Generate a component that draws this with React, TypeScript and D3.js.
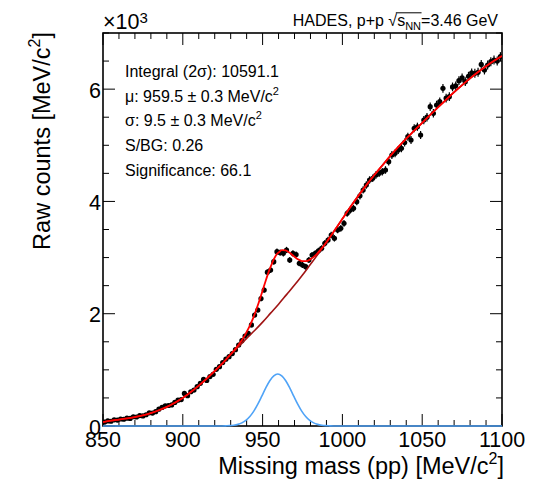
import React, { useEffect, useRef } from "react";
import * as d3 from "d3";

const W = 545;
const H = 487;
const L = 103, R = 502, T = 33, B = 426;

const xDomain = [850, 1100];
const yDomain = [0, 7000];
const xMajorTicks = [850, 900, 950, 1000, 1050, 1100];
const xTickLabels = ["850", "900", "950", "1000", "1050", "1100"];
const yMajorTicks = [0, 2000, 4000, 6000];
const yTickLabels = ["0", "2", "4", "6"];

// bin centres (2 MeV bins)
const binCenters = d3.range(851, 1100, 2);
// raw counts per bin
const counts = [
  70, 90, 85, 110, 105, 125, 120, 140, 135, 165,
  160, 185, 180, 200, 235, 230, 255, 300, 330, 360,
  365, 375, 420, 460, 470, 580, 540, 610, 640, 700,
  760, 830, 810, 880, 920,
  1010, 1056, 1130, 1190, 1234, 1290, 1360, 1443, 1520, 1603,
  1650, 1800, 1977, 2066, 2270, 2422, 2740, 2779, 2927, 3105,
  3087, 3076, 3135, 2957, 3076, 3055, 2898, 2868, 2838, 2957,
  3046, 3076, 3120, 3165, 3254, 3313, 3402, 3343, 3491, 3521,
  3610, 3788, 3847, 3877, 3995, 4100, 4204, 4293, 4382, 4412,
  4471, 4501, 4530, 4560, 4708, 4827, 4857, 4916, 4946, 5050,
  5153, 5094, 5303, 5330, 5183, 5450, 5500, 5688, 5570, 5718,
  5777, 6015, 5840, 5866, 6040, 6060, 6150, 6200, 6133, 6230,
  6290, 6282, 6300, 6440, 6341, 6430, 6489, 6519, 6500, 6578,
];

// background fit curve (dark red)
const bgMass = [
  850, 855, 860, 865, 870, 875, 880, 885, 890, 895,
  900, 905, 910, 915, 920, 925, 930, 935, 940, 945,
  950, 955, 960, 965, 970, 975, 980, 985, 990, 995,
  1000, 1005, 1010, 1015, 1020, 1025, 1030, 1035, 1040, 1045,
  1050, 1055, 1060, 1065, 1070, 1075, 1080, 1085, 1090, 1095,
  1100,
];
const bgVal = [
  70, 95, 115, 135, 160, 190, 230, 280, 340, 415,
  500, 605, 720, 845, 980, 1120, 1270, 1415, 1560, 1700,
  1850, 2010, 2170, 2340, 2510, 2690, 2880, 3070, 3270, 3480,
  3690, 3900, 4100, 4290, 4470, 4640, 4810, 4970, 5120, 5260,
  5400, 5540, 5678, 5814, 5946, 6072, 6192, 6304, 6408, 6504,
  6592,
];

// signal (gaussian) fit curve (blue)
const sigMass = [
  850, 919.5, 922, 924.5, 927, 929.5, 932, 934.5, 937, 939.5,
  942, 944.5, 947, 949.5, 952, 954.5, 957, 959.5, 962, 964.5,
  967, 969.5, 972, 974.5, 977, 979.5, 982, 984.5, 987, 989.5,
  992, 994.5, 997, 999.5, 1100,
];
const sigVal = [
  0, 0, 0, 1, 3, 6, 14, 29, 56, 101,
  170, 266, 390, 532, 678, 806, 894, 926, 894, 806,
  678, 532, 390, 266, 170, 101, 56, 29, 14, 6,
  3, 1, 0, 0, 0,
];

const statLines = [
  { main: "Integral (2σ): 10591.1", sup: "" },
  { main: "μ: 959.5 ± 0.3 MeV/c", sup: "2" },
  { main: "σ: 9.5 ± 0.3 MeV/c", sup: "2" },
  { main: "S/BG: 0.26", sup: "" },
  { main: "Significance: 66.1", sup: "" },
];

const FONT = "'Liberation Sans', Arial, Helvetica, sans-serif";

export default function App() {
  const ref = useRef<SVGSVGElement>(null);

  useEffect(() => {
    const svg = d3.select(ref.current);
    svg.selectAll("*").remove();

    const x = d3.scaleLinear().domain(xDomain).range([L, R]);
    const y = d3.scaleLinear().domain(yDomain).range([B, T]);

    svg.append("rect").attr("width", W).attr("height", H).attr("fill", "#fff");

    const defs = svg.append("defs");
    defs
      .append("clipPath")
      .attr("id", "plotclip")
      .append("rect")
      .attr("x", L)
      .attr("y", T)
      .attr("width", R - L)
      .attr("height", B - T + 2);

    // frame
    svg
      .append("rect")
      .attr("x", L)
      .attr("y", T)
      .attr("width", R - L)
      .attr("height", B - T)
      .attr("fill", "none")
      .attr("stroke", "#000")
      .attr("stroke-width", 1.6);

    // ticks
    const tg = svg.append("g").attr("stroke", "#000").attr("stroke-width", 1);
    const xMinor = d3.range(850, 1101, 10);
    xMinor.forEach((v) => {
      const len = xMajorTicks.includes(v) ? 12 : 6;
      tg.append("line").attr("x1", x(v)).attr("x2", x(v)).attr("y1", B).attr("y2", B - len);
      tg.append("line").attr("x1", x(v)).attr("x2", x(v)).attr("y1", T).attr("y2", T + len);
    });
    const yMinor = d3.range(0, 7001, 500);
    yMinor.forEach((v) => {
      const len = yMajorTicks.includes(v) ? 12 : 6;
      tg.append("line").attr("x1", L).attr("x2", L + len).attr("y1", y(v)).attr("y2", y(v));
      tg.append("line").attr("x1", R).attr("x2", R - len).attr("y1", y(v)).attr("y2", y(v));
    });

    // data
    const pts = binCenters.map((m, i) => ({ m, v: counts[i] }));
    const g = svg.append("g").attr("clip-path", "url(#plotclip)");
    g.selectAll("line.err")
      .data(pts)
      .join("line")
      .attr("class", "err")
      .attr("x1", (d) => x(d.m))
      .attr("x2", (d) => x(d.m))
      .attr("y1", (d) => y(d.v + Math.sqrt(d.v)))
      .attr("y2", (d) => y(d.v - Math.sqrt(d.v)))
      .attr("stroke", "#000")
      .attr("stroke-width", 1.2);
    g.selectAll("circle.pt")
      .data(pts)
      .join("circle")
      .attr("class", "pt")
      .attr("cx", (d) => x(d.m))
      .attr("cy", (d) => y(d.v))
      .attr("r", 2.6)
      .attr("fill", "#000");

    // curves
    const bgPts = bgMass.map((m, i) => [m, bgVal[i]] as [number, number]);
    const sigPts = sigMass.map((m, i) => [m, sigVal[i]] as [number, number]);
    const bgInterp = d3.scaleLinear().domain(bgMass).range(bgVal);
    const sigInterp = d3.scaleLinear().domain(sigMass).range(sigVal);
    const unionMass = Array.from(new Set([...bgMass, ...sigMass])).sort((a, b) => a - b);
    const totPts = unionMass.map((m) => [m, bgInterp(m) + sigInterp(m)] as [number, number]);

    const line = d3
      .line<[number, number]>()
      .x((d) => x(d[0]))
      .y((d) => y(d[1]))
      .curve(d3.curveMonotoneX);

    g.append("path")
      .attr("d", line(bgPts))
      .attr("fill", "none")
      .attr("stroke", "#a01414")
      .attr("stroke-width", 1.6);
    g.append("path")
      .attr("d", line(totPts))
      .attr("fill", "none")
      .attr("stroke", "#ff0000")
      .attr("stroke-width", 1.8);
    g.append("path")
      .attr("d", line(sigPts))
      .attr("fill", "none")
      .attr("stroke", "#4fa3f7")
      .attr("stroke-width", 1.6);

    // tick labels
    xMajorTicks.forEach((v, i) => {
      svg
        .append("text")
        .attr("x", x(v))
        .attr("y", 447)
        .attr("text-anchor", "middle")
        .attr("font-family", FONT)
        .attr("font-size", 21.5)
        .text(xTickLabels[i]);
    });
    yMajorTicks.forEach((v, i) => {
      svg
        .append("text")
        .attr("x", 101)
        .attr("y", y(v) + 8.5)
        .attr("text-anchor", "end")
        .attr("font-family", FONT)
        .attr("font-size", 21.5)
        .text(yTickLabels[i]);
    });

    // ×10^3
    const mult = svg.append("text").attr("x", 103).attr("y", 29).attr("font-family", FONT).attr("font-size", 21.5);
    mult.append("tspan").text("×10");
    mult.append("tspan").attr("font-size", 15).attr("dy", -6).text("3");

    // title
    const title = svg
      .append("text")
      .attr("x", 498)
      .attr("y", 26)
      .attr("text-anchor", "end")
      .attr("font-family", FONT)
      .attr("font-size", 16);
    title.append("tspan").text("HADES, p+p √s");
    title.append("tspan").attr("font-size", 11).attr("dy", 4).text("NN");
    title.append("tspan").attr("dy", -4).text("=3.46 GeV");
    const tEl = title.node() as SVGTextElement;
    try {
      const s0 = tEl.getStartPositionOfChar(11);
      const s1 = tEl.getEndPositionOfChar(11);
      const e = tEl.getEndPositionOfChar(14);
      svg
        .append("line")
        .attr("x1", s0.x + (s1.x - s0.x) * 0.85)
        .attr("x2", e.x + 0.5)
        .attr("y1", 26 - 13.2)
        .attr("y2", 26 - 13.2)
        .attr("stroke", "#000")
        .attr("stroke-width", 1);
    } catch (err) {
      /* ignore */
    }

    // stats
    statLines.forEach((ln, i) => {
      const t = svg
        .append("text")
        .attr("x", 125)
        .attr("y", 77 + i * 24.7)
        .attr("font-family", FONT)
        .attr("font-size", 16);
      t.append("tspan").text(ln.main);
      if (ln.sup) t.append("tspan").attr("font-size", 11).attr("dy", -7).text(ln.sup);
    });

    // axis titles
    const xt = svg
      .append("text")
      .attr("x", 504)
      .attr("y", 474)
      .attr("text-anchor", "end")
      .attr("font-family", FONT)
      .attr("font-size", 23.5);
    xt.append("tspan").text("Missing mass (pp) [MeV/c");
    xt.append("tspan").attr("font-size", 16).attr("dy", -10).text("2");
    xt.append("tspan").attr("dy", 10).text("]");

    const yt = svg
      .append("text")
      .attr("transform", "translate(50,32) rotate(-90)")
      .attr("text-anchor", "end")
      .attr("font-family", FONT)
      .attr("font-size", 23.5);
    yt.append("tspan").text("Raw counts [MeV/c");
    yt.append("tspan").attr("font-size", 16).attr("dy", -10).text("2");
    yt.append("tspan").attr("dy", 10).text("]");
  }, []);

  return (
    <svg
      ref={ref}
      width={W}
      height={H}
      style={{ position: "absolute", left: 0, top: 0, display: "block" }}
    />
  );
}
